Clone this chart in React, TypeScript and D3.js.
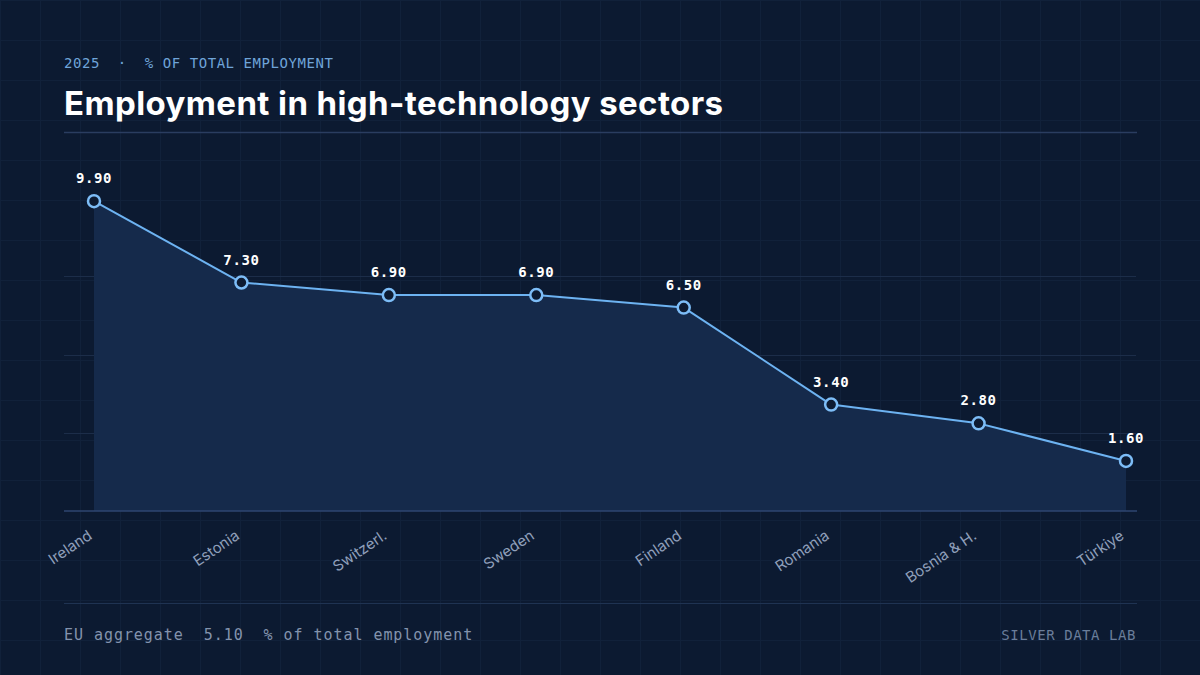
import React, { FC } from 'react'
import * as d3 from 'd3'

const countries = ['Ireland', 'Estonia', 'Switzerl.', 'Sweden', 'Finland', 'Romania', 'Bosnia & H.', 'Türkiye']
const shares = [9.9, 7.3, 6.9, 6.9, 6.5, 3.4, 2.8, 1.6]
const yTicks = [0, 2.5, 5, 7.5, 10]
const euAggregate = 5.1

const W = 1200
const H = 675
const left = 64
const right = 1136
const top = 198
const bottom = 511

const mono = '"DejaVu Sans Mono", "Liberation Mono", monospace'
const sans = 'Inter, "Noto Sans", sans-serif'

const App: FC = () => {
	const x = d3.scalePoint<string>().domain(countries).range([left + 30, right - 10])
	const y = d3.scaleLinear().domain([0, 10]).range([bottom, top])

	const pts = countries.map((c, i) => ({ c, v: shares[i] }))
	const line = d3
		.line<{ c: string; v: number }>()
		.x((d) => x(d.c) as number)
		.y((d) => y(d.v))
	const area = d3
		.area<{ c: string; v: number }>()
		.x((d) => x(d.c) as number)
		.y0(bottom)
		.y1((d) => y(d.v))

	// faint background grid
	const bgX = d3.range(0, W + 1, 40)
	const bgY = d3.range(0, H + 1, 40)

	return (
		<svg width={W} height={H} style={{ display: 'block', position: 'absolute', left: 0, top: 0 }}>
			<rect width={W} height={H} fill="#0c1a31" />
			<g stroke="#11213a" strokeWidth={1}>
				{bgX.map((v) => (
					<line key={'x' + v} x1={v + 0.5} x2={v + 0.5} y1={0} y2={H} />
				))}
				{bgY.map((v) => (
					<line key={'y' + v} x1={0} x2={W} y1={v + 0.5} y2={v + 0.5} />
				))}
			</g>

			{/* header */}
			<text x={left} y={68} fill="#6fa4d9" fontFamily={mono} fontSize={14} letterSpacing={0.55} style={{ whiteSpace: 'pre' }}>
				{'2025  ·  % OF TOTAL EMPLOYMENT'}
			</text>
			<text x={left} y={115} fill="#ffffff" fontFamily={sans} fontWeight={700} fontSize={33} letterSpacing={0.4}>
				Employment in high-technology sectors
			</text>
			<line x1={left} x2={right + 1} y1={132.5} y2={132.5} stroke="#2a3d60" strokeWidth={1.5} />

			{/* y gridlines */}
			<g stroke="#1c2d49" strokeWidth={1}>
				{yTicks.slice(1, -1).map((t) => (
					<line key={t} x1={left} x2={right} y1={Math.round(y(t)) + 0.5} y2={Math.round(y(t)) + 0.5} />
				))}
			</g>

			{/* area + line */}
			<path d={area(pts) || ''} fill="#152a4b" />
			<line x1={left} x2={right + 1} y1={bottom} y2={bottom} stroke="#2e4670" strokeWidth={1.5} />
			<path d={line(pts) || ''} fill="none" stroke="#6db3f2" strokeWidth={2} strokeLinejoin="round" />
			{pts.map((d) => (
				<g key={d.c}>
					<circle cx={x(d.c)} cy={y(d.v)} r={6} fill="#0d1b32" stroke="#7dbdf7" strokeWidth={2.5} />
					<text
						x={x(d.c)}
						y={y(d.v) - 18}
						textAnchor="middle"
						fill="#ffffff"
						fontFamily={mono}
						fontWeight={700}
						fontSize={14}
						letterSpacing={0.6}
					>
						{d.v.toFixed(2)}
					</text>
				</g>
			))}

			{/* x labels */}
			{countries.map((c) => (
				<text
					key={c}
					transform={`translate(${(x(c) as number) - 1},${bottom + 27}) rotate(-34)`}
					textAnchor="end"
					fill="#8f9fba"
					fontFamily={sans}
					fontSize={15}
				>
					{c}
				</text>
			))}

			{/* footer */}
			<line x1={left} x2={right + 1} y1={603.5} y2={603.5} stroke="#1f3352" strokeWidth={1} />
			<text x={left} y={640} fill="#8393ad" fontFamily={mono} fontSize={15} letterSpacing={0.95} style={{ whiteSpace: 'pre' }}>
				{`EU aggregate  ${euAggregate.toFixed(2)}  % of total employment`}
			</text>
			<text x={right} y={640} textAnchor="end" fill="#6a7d9a" fontFamily={mono} fontSize={14} letterSpacing={0.55}>
				SILVER DATA LAB
			</text>
		</svg>
	)
}

export default App
